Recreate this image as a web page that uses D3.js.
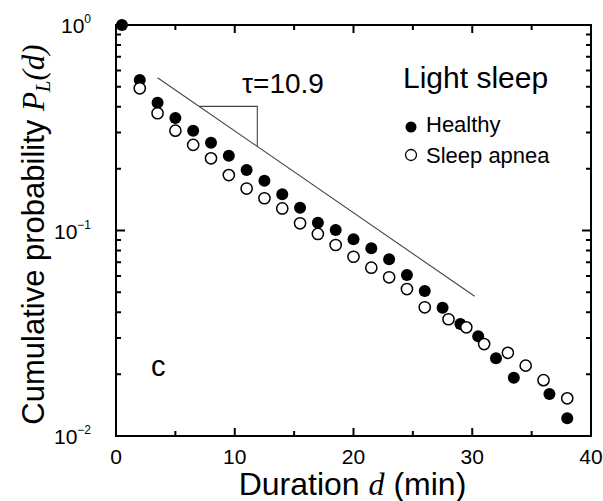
<!DOCTYPE html>
<html>
<head>
<meta charset="utf-8">
<script src="https://cdn.jsdelivr.net/npm/d3@7"></script>
<style>
  body { margin: 0; background: #fff; }
  svg { display: block; }
  text { font-family: "Liberation Sans", Arial, sans-serif; fill: #000; }
  .it { font-family: "Liberation Serif", "Times New Roman", serif; font-style: italic; }
</style>
</head>
<body>
<svg id="chart" width="603" height="501"></svg>
<script>
// Cumulative distribution of light-sleep durations
const healthyD = [0.5, 2, 3.5, 5, 6.5, 8, 9.5, 11, 12.5, 14, 15.5, 17, 18.5, 20, 21.5, 23, 24.5, 26, 27.5, 29, 30.5, 32, 33.5, 36.5, 38];
const healthyP = [1.0, 0.54, 0.419, 0.353, 0.306, 0.2675, 0.231, 0.197, 0.1747, 0.150, 0.129, 0.109, 0.1005, 0.0906, 0.0819, 0.0724, 0.0607, 0.0508, 0.0421, 0.0351, 0.0306, 0.0239, 0.0192, 0.016, 0.0122];

const apneaD = [2, 3.5, 5, 6.5, 8, 9.5, 11, 12.5, 14, 15.5, 17, 18.5, 20, 21.5, 23, 24.5, 26, 28, 29.5, 31, 33, 34.5, 36, 38];
const apneaP = [0.492, 0.372, 0.306, 0.261, 0.2245, 0.186, 0.160, 0.1435, 0.128, 0.1084, 0.0962, 0.085, 0.0745, 0.0659, 0.0592, 0.0519, 0.0423, 0.037, 0.0338, 0.028, 0.0254, 0.022, 0.0187, 0.01525];

// Exponential guide line P = A * exp(-d / tau)
const fitTau = 10.9;
const fitAmp = 0.764;
const fitRange = [3.5, 30.2];
const slopeRange = [7, 11.9];

const xMajor = [0, 10, 20, 30, 40];
const xMinor = [5, 15, 25, 35];
const yMajor = [1, 0.1, 0.01];
const yExponents = ["0", "\u22121", "\u22122"];
const yMinor = [];
[0.01, 0.1].forEach(b => { for (let k = 2; k <= 9; k++) yMinor.push(b * k); });

const svg = d3.select("#chart");
const margin = { left: 116, right: 12, top: 25, bottom: 65 };
const width = 603, height = 501;

const x = d3.scaleLinear().domain([0, 40]).range([margin.left, width - margin.right]);
const y = d3.scaleLog().domain([0.01, 1]).range([height - margin.bottom, margin.top]);
const x0 = x.range()[0], x1 = x.range()[1];
const yB = y.range()[0], yT = y.range()[1];

// inward tick marks on all four sides, drawn as one path
let tickPath = "";
function addX(vals, len) {
  vals.forEach(v => {
    const px = x(v);
    tickPath += `M${px},${yB}V${yB - len}M${px},${yT}V${yT + len}`;
  });
}
function addY(vals, len) {
  vals.forEach(v => {
    const py = y(v);
    tickPath += `M${x0},${py}H${x0 + len}M${x1},${py}H${x1 - len}`;
  });
}
addX(xMajor, 8);
addX(xMinor, 5);
addY(yMajor, 9);
addY(yMinor, 5);
svg.append("path").attr("d", tickPath)
  .attr("fill", "none").attr("stroke", "black").attr("stroke-width", 2);

// frame
svg.append("path")
  .attr("d", `M${x0},${yT}H${x1}V${yB}H${x0}Z`)
  .attr("fill", "none").attr("stroke", "black").attr("stroke-width", 2);

// x tick labels
svg.append("g").selectAll("text").data(xMajor).join("text")
  .attr("x", d => x(d)).attr("y", yB + 28)
  .attr("text-anchor", "middle").attr("font-size", 21)
  .text(d => d);

// y tick labels (powers of ten)
const yl = svg.append("g").selectAll("text").data(yMajor).join("text")
  .attr("x", 91).attr("y", d => y(d) + 8)
  .attr("text-anchor", "end").attr("font-size", 21);
yl.append("tspan").text("10");
yl.append("tspan").attr("font-size", 12).attr("dy", -10).text((d, i) => yExponents[i]);

// axis titles
const xt = svg.append("text").attr("x", (x0 + x1) / 2 - 1).attr("y", 495)
  .attr("text-anchor", "middle").attr("font-size", 32);
xt.append("tspan").text("Duration ");
xt.append("tspan").attr("class", "it").text("d");
xt.append("tspan").text(" (min)");

const yt = svg.append("text").attr("transform", `translate(44,${(yT + yB) / 2 + 4}) rotate(-90)`)
  .attr("text-anchor", "middle").attr("font-size", 31);
yt.append("tspan").text("Cumulative probability ");
yt.append("tspan").attr("class", "it").text("P");
yt.append("tspan").attr("class", "it").attr("font-size", 21).attr("dy", 6).text("L");
yt.append("tspan").attr("class", "it").attr("dy", -6).text("(d)");

// guide line and slope triangle
const fit = d => fitAmp * Math.exp(-d / fitTau);
const line = d3.line().x(d => x(d)).y(d => y(fit(d)));
svg.append("path").attr("d", line(fitRange))
  .attr("fill", "none").attr("stroke", "#444").attr("stroke-width", 1.1);
const tri = [
  [slopeRange[0], fit(slopeRange[0])],
  [slopeRange[1], fit(slopeRange[0])],
  [slopeRange[1], fit(slopeRange[1])]
];
svg.append("path").attr("d", d3.line().x(d => x(d[0])).y(d => y(d[1]))(tri))
  .attr("fill", "none").attr("stroke", "#444").attr("stroke-width", 1.1);
svg.append("text").attr("x", 242).attr("y", 93).attr("font-size", 28)
  .text("\u03c4=" + fitTau);

// data points
svg.append("g").selectAll("circle").data(healthyD).join("circle")
  .attr("cx", d => x(d)).attr("cy", (d, i) => y(healthyP[i])).attr("r", 6)
  .attr("fill", "#000");
svg.append("g").selectAll("circle").data(apneaD).join("circle")
  .attr("cx", d => x(d)).attr("cy", (d, i) => y(apneaP[i])).attr("r", 5.6)
  .attr("fill", "#fff").attr("stroke", "#000").attr("stroke-width", 1.5);

// legend
svg.append("text").attr("x", 403).attr("y", 88).attr("font-size", 30).text("Light sleep");
const legend = [
  { label: "Healthy", filled: true, cy: 127, ty: 132 },
  { label: "Sleep apnea", filled: false, cy: 155, ty: 163 }
];
legend.forEach(e => {
  svg.append("circle").attr("cx", 411).attr("cy", e.cy).attr("r", 5.5)
    .attr("fill", e.filled ? "#000" : "#fff").attr("stroke", "#000").attr("stroke-width", e.filled ? 0 : 1.3);
  svg.append("text").attr("x", 426).attr("y", e.ty).attr("font-size", 22).text(e.label);
});

// panel letter
svg.append("text").attr("x", 151).attr("y", 376).attr("font-size", 29).text("c");
</script>
</body>
</html>
